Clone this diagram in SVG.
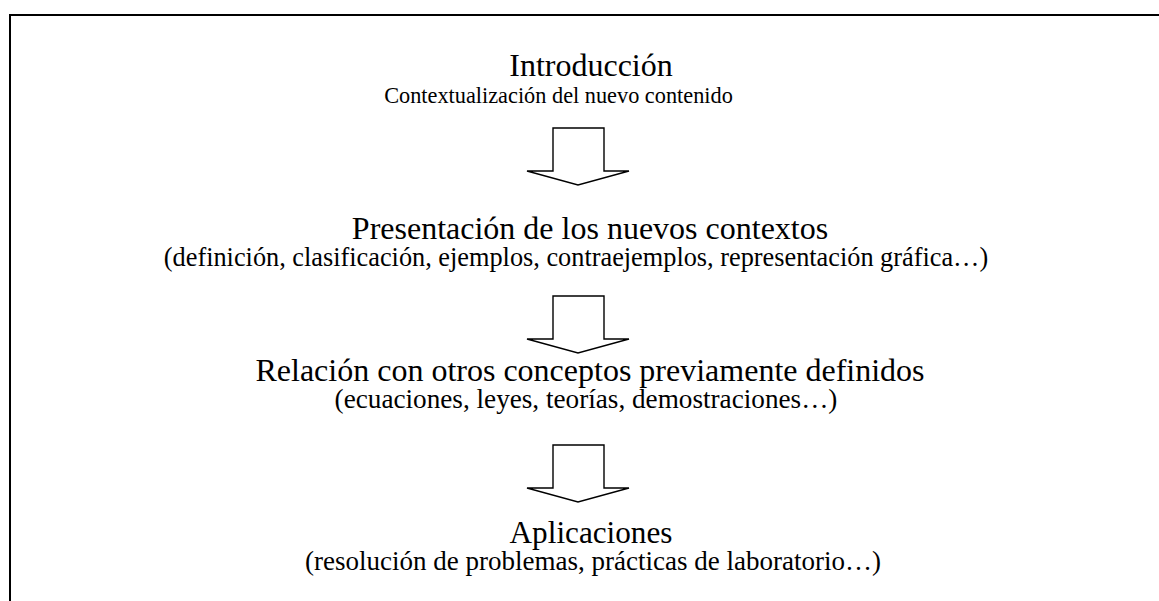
<svg xmlns="http://www.w3.org/2000/svg" width="1159" height="601" viewBox="0 0 1159 601">
  <style>
    text { font-family: "Liberation Serif", "Times New Roman", serif; fill: #000; text-anchor: middle; }
    .title { font-size: 32px; }
    .frame { fill: none; stroke: #000; stroke-width: 2; }
    .arrow { fill: #fff; stroke: #000; stroke-width: 1.4; stroke-linejoin: miter; }
  </style>
  <defs>
    <polygon id="blockArrow" points="553,0 604,0 604,43 629,43 578,57 527,43 553,43"/>
  </defs>
  <rect width="1159" height="601" fill="#fff"/>
  <path class="frame" d="M10,601 V15 H1159"/>

  <g id="introduccion">
    <text class="title" x="591" y="76">Introducción</text>
    <text x="558.5" y="103" style="font-size:22.3px">Contextualización del nuevo contenido</text>
  </g>
  <g id="presentacion">
    <text class="title" x="590" y="239">Presentación de los nuevos contextos</text>
    <text x="576" y="266" style="font-size:26.3px">(definición, clasificación, ejemplos, contraejemplos, representación gráfica…)</text>
  </g>
  <g id="relacion">
    <text class="title" x="590" y="381">Relación con otros conceptos previamente definidos</text>
    <text x="586" y="408" style="font-size:27.2px">(ecuaciones, leyes, teorías, demostraciones…)</text>
  </g>
  <g id="aplicaciones">
    <text class="title" x="591" y="543" style="font-size:31.2px">Aplicaciones</text>
    <text x="593" y="570" style="font-size:27px">(resolución de problemas, prácticas de laboratorio…)</text>
  </g>

  <g id="connectors">
    <use href="#blockArrow" class="arrow" y="128"/>
    <use href="#blockArrow" class="arrow" y="296"/>
    <use href="#blockArrow" class="arrow" y="445"/>
  </g>
</svg>
